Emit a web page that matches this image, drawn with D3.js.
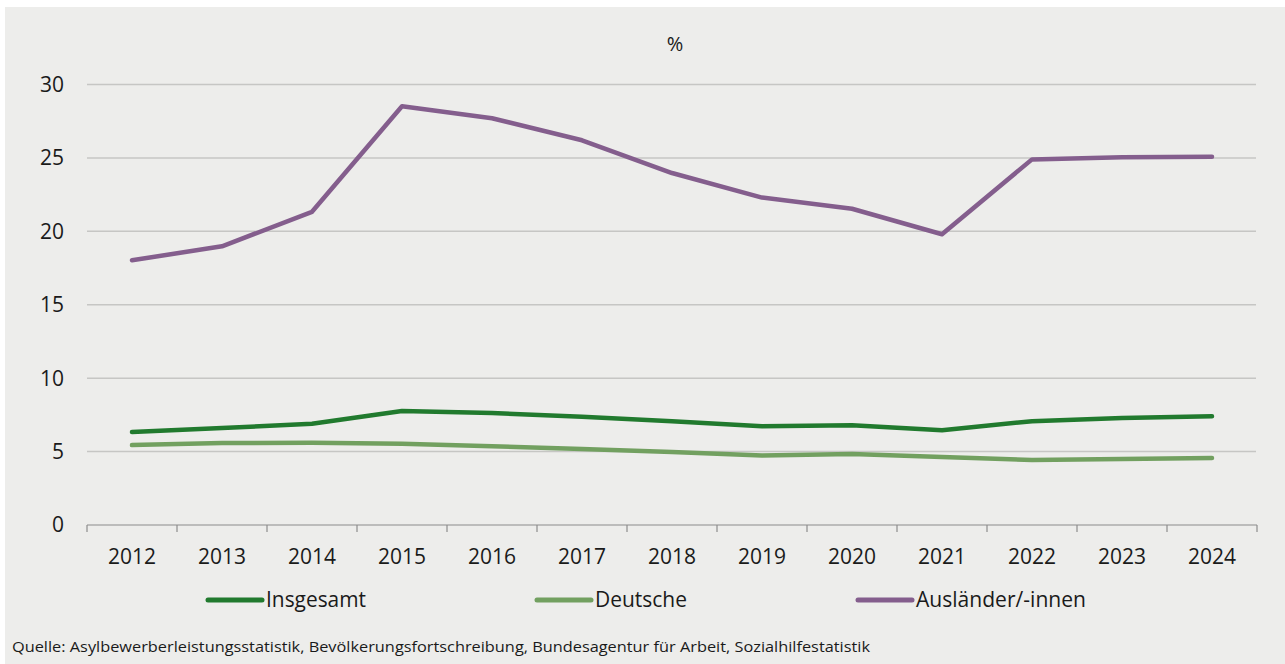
<!DOCTYPE html>
<html><head><meta charset="utf-8">
<script src="https://cdn.jsdelivr.net/npm/d3@7"></script>
<style>
html,body{margin:0;padding:0;background:#fff;}
svg{display:block;font-family:"Open Sans","Noto Sans",sans-serif;}
</style></head><body>
<script>
const years = ["2012","2013","2014","2015","2016","2017","2018","2019","2020","2021","2022","2023","2024"];
const insgesamt = [6.33,6.6,6.9,7.76,7.62,7.38,7.07,6.73,6.8,6.46,7.07,7.28,7.41];
const deutsche  = [5.44,5.58,5.6,5.54,5.37,5.17,4.97,4.73,4.83,4.63,4.42,4.49,4.56];
const auslaender= [18.03,18.98,21.33,28.52,27.7,26.2,23.97,22.3,21.54,19.8,24.9,25.05,25.08];
const yTicks = [0,5,10,15,20,25,30];
const seriesNames = ["Insgesamt","Deutsche","Ausländer/-innen"];
const colors = ["#217a2e","#72a060","#845e8d"];
const unit = "%";
const source = "Quelle: Asylbewerberleistungsstatistik, Bevölkerungsfortschreibung, Bundesagentur für Arbeit, Sozialhilfestatistik";

const W=1285,H=664;
const svg=d3.select("body").append("svg").attr("width",W).attr("height",H);
svg.append("rect").attr("x",5).attr("y",7).attr("width",W-5).attr("height",H-7).attr("fill","#ededeb");

const x=d3.scaleBand().domain(years).range([87,1257]);
const y=d3.scaleLinear().domain([0,30]).range([525,84.5]);

// gridlines
svg.append("g").selectAll("line").data(yTicks.filter(d=>d>0)).join("line")
  .attr("x1",87).attr("x2",1256).attr("y1",d=>y(d)).attr("y2",d=>y(d))
  .attr("stroke","#c6c6c4").attr("stroke-width",1.5);

// y labels
svg.append("g").selectAll("text").data(yTicks).join("text")
  .attr("x",64).attr("y",d=>y(d)).attr("dy","0.35em").attr("text-anchor","end")
  .attr("font-size",21).attr("fill","#1a1a1a").text(d=>d);

// x axis
const xa=svg.append("g").attr("transform","translate(0,525)");
xa.append("line").attr("x1",87).attr("x2",1257).attr("stroke","#8c8c8c").attr("stroke-width",1.2);
const bounds=years.map(d=>x(d)).concat([x.range()[1]]);
xa.selectAll("line.t").data(bounds).join("line").attr("class","t")
  .attr("x1",d=>d).attr("x2",d=>d).attr("y1",0).attr("y2",7).attr("stroke","#8c8c8c").attr("stroke-width",1.2);
xa.selectAll("text").data(years).join("text")
  .attr("x",d=>x(d)+x.bandwidth()/2).attr("y",39).attr("text-anchor","middle")
  .attr("font-size",21).attr("fill","#1a1a1a").text(d=>d);

// unit
svg.append("text").attr("x",675).attr("y",51).attr("text-anchor","middle")
  .attr("font-size",20).attr("fill","#1a1a1a").text(unit);

// lines
const data=[insgesamt,deutsche,auslaender];
const line=d3.line().x((d,i)=>x(years[i])+x.bandwidth()/2).y(d=>y(d));
// draw order: deutsche, insgesamt, auslaender
[1,0,2].forEach(k=>{
  svg.append("path").attr("d",line(data[k])).attr("fill","none")
    .attr("stroke",colors[k]).attr("stroke-width",4.5)
    .attr("stroke-linecap","round").attr("stroke-linejoin","round");
});

// legend
const legX=[208,537,858];
const legTextW=[100,92,170];
seriesNames.forEach((n,i)=>{
  svg.append("line").attr("x1",legX[i]).attr("x2",legX[i]+54).attr("y1",600).attr("y2",600)
    .attr("stroke",colors[i]).attr("stroke-width",5).attr("stroke-linecap","round");
  svg.append("text").attr("x",legX[i]+58).attr("y",600).attr("dy","0.35em")
    .attr("font-size",21).attr("fill","#1a1a1a")
    .attr("textLength",legTextW[i]).attr("lengthAdjust","spacingAndGlyphs").text(n);
});

// source
svg.append("text").attr("x",12).attr("y",652).attr("font-size",15).attr("fill","#1a1a1a")
  .attr("textLength",858).attr("lengthAdjust","spacingAndGlyphs").text(source);
</script>
</body></html>
